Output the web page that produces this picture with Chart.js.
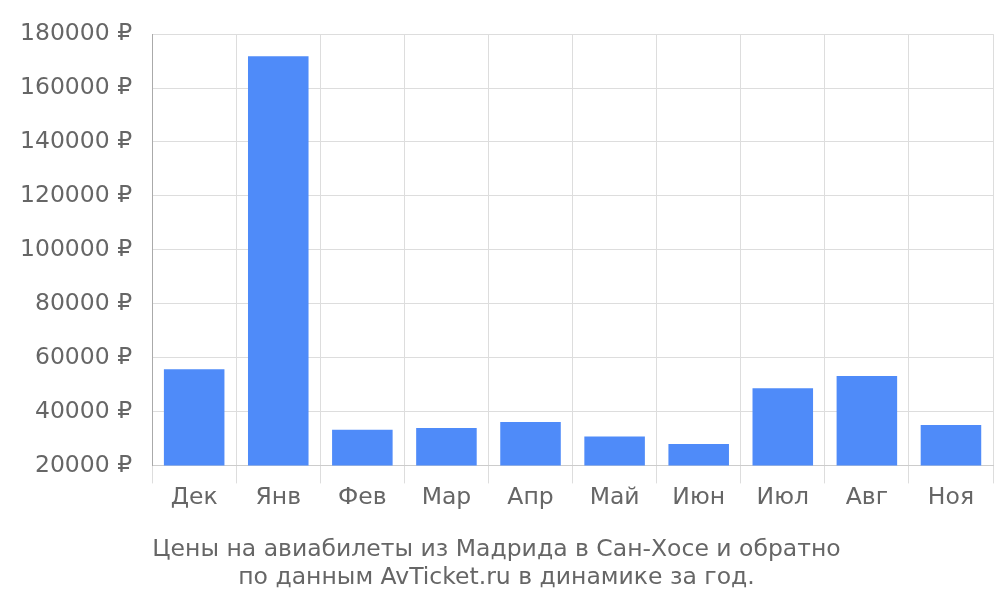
<!DOCTYPE html>
<html>
<head>
<meta charset="utf-8">
<script src="https://cdn.jsdelivr.net/npm/chart.js@4"></script>
<style>
    html, body { margin: 0; padding: 0; background: #fff; }
    #wrap { width: 1000px; height: 600px; }
</style>
</head>
<body>
<div id="wrap"><canvas id="chart"></canvas></div>
<script>
// Données
const MOIS   = ['Дек', 'Янв', 'Фев', 'Мар', 'Апр', 'Май', 'Июн', 'Июл', 'Авг', 'Ноя'];
const PRIX   = [55700, 171800, 33200, 33900, 36100, 30700, 27900, 48600, 53200, 35000];
const TITRE  = ['Цены на авиабилеты из Мадрида в Сан-Хосе и обратно', 'по данным AvTicket.ru в динамике за год.'];

const FONT = 'DejaVu Sans';

new Chart(document.getElementById('chart'), {
    type: 'bar',
    data: {
        labels: MOIS,
        datasets: [{ data: PRIX, backgroundColor: '#4f8bf9', borderWidth: 0,
                     barPercentage: 0.72, categoryPercentage: 1 }],
    },
    options: {
        responsive: true,
        maintainAspectRatio: false,
        animation: false,
        layout: { padding: { top: 0, right: 7, left: 0, bottom: 8 } },
        plugins: {
            legend:  { display: false },
            tooltip: { enabled: false },
            title: {
                display: true,
                position: 'bottom',
                text: TITRE,
                color: '#666',
                font: { family: FONT, size: 23.5, weight: 'normal', lineHeight: 1.2 },
                padding: { top: 24, bottom: 0 },
            },
        },
        scales: {
            x: {
                grid:   { color: '#ddd', tickLength: 18, offset: true },
                border: { color: '#ccc' },
                ticks:  { color: '#666', font: { family: FONT, size: 23.5 }, padding: 0 },
            },
            y: {
                min: 20000,
                max: 180000,
                grid:   { color: '#ddd', tickLength: 0 },
                border: { color: '#aaa' },
                ticks:  {
                    stepSize: 20000,
                    color: '#666',
                    padding: 20,
                    font: { family: FONT, size: 23.5 },
                    callback: v => v + ' ₽',
                },
            },
        },
    },
});
</script>
</body>
</html>
